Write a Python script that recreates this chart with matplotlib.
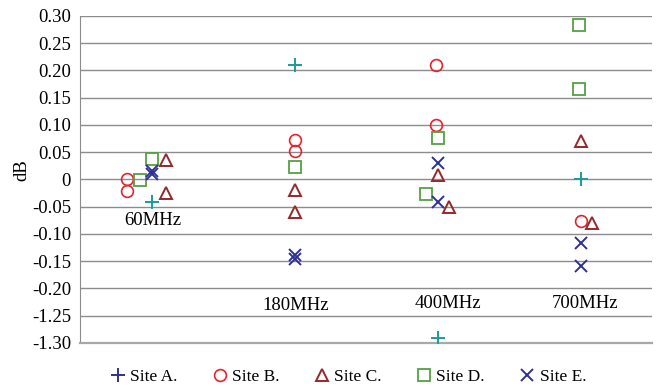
import matplotlib.pyplot as plt
from matplotlib.lines import Line2D

freqs = ["60MHz", "180MHz", "400MHz", "700MHz"]

# measured deviation (dB) per site, one list per frequency
site_a = [[-0.041], [0.210], [-1.290], [0.000]]
site_b = [[0.000, -0.021], [0.073, 0.052], [0.210, 0.100], [-0.077]]
site_c = [[0.036, -0.024], [-0.019, -0.060], [0.008, -0.051], [0.071, -0.079]]
site_d = [[0.037, -0.001], [0.023], [0.077, -0.027], [0.284, 0.166]]
site_e = [[0.016, 0.010], [-0.139, -0.146], [0.030, -0.041], [-0.117, -0.158]]

site_names = ["Site A.", "Site B.", "Site C.", "Site D.", "Site E."]
tick_values = [0.30, 0.25, 0.20, 0.15, 0.10, 0.05, 0, -0.05, -0.10, -0.15, -0.20, -1.25, -1.30]
tick_labels = ["0.30", "0.25", "0.20", "0.15", "0.10", "0.05", "0", "-0.05", "-0.10",
               "-0.15", "-0.20", "-1.25", "-1.30"]

# small sideways nudges so overlapping markers stay visible (category units)
nudge_a = [[0], [0], [0], [0]]
nudge_b = [[-0.17, -0.17], [0, 0], [-0.01, -0.01], [0.005]]
nudge_c = [[0.10, 0.10], [0, 0], [0, 0.08], [0, 0.08]]
nudge_d = [[0, -0.08], [0], [0, -0.08], [-0.01, -0.01]]
nudge_e = [[0, 0], [0, 0], [0, 0], [0, 0]]

styles = [
    dict(marker="+", color="#1a9c9c", ms=10, mew=1.4),
    dict(marker="o", color="#e2242c", ms=8.5, mew=1.2),
    dict(marker="^", color="#96282a", ms=8.5, mew=1.4),
    dict(marker="s", color="#55a044", ms=8, mew=1.3),
    dict(marker="x", color="#2e3192", ms=8.5, mew=1.4),
]
legend_colors = ["#2e3192", "#e2242c", "#96282a", "#55a044", "#2e3192"]


def to_axis(v):
    # broken axis: values below -0.2 are shifted up by 1.0
    return v if v >= -0.2 else v + 1.0


plt.rcParams["font.family"] = ["Liberation Serif", "DejaVu Serif"]

fig = plt.figure(figsize=(6.58, 3.89), dpi=100)
ax = fig.add_axes([0.1216, 0.1183, 0.8694, 0.8406])

sites = [site_a, site_b, site_c, site_d, site_e]
nudges = [nudge_a, nudge_b, nudge_c, nudge_d, nudge_e]
for data, nudge, st in zip(sites, nudges, styles):
    xs, ys = [], []
    for i, vals in enumerate(data):
        for v, dx in zip(vals, nudge[i]):
            xs.append(i + dx)
            ys.append(to_axis(v))
    ax.plot(xs, ys, linestyle="none", marker=st["marker"], ms=st["ms"], mew=st["mew"],
            mec=st["color"], mfc="none", color=st["color"], zorder=3)

ax.set_xlim(-0.5, 3.5)
ax.set_ylim(-0.30, 0.30)
ax.set_yticks([to_axis(t) for t in tick_values])
ax.set_yticklabels(tick_labels)
ax.set_xticks([])
ax.tick_params(axis="y", length=0, pad=6.5, labelsize=13.5)
ax.yaxis.grid(True, color="#8c8c8c", linewidth=1.0)
ax.set_axisbelow(True)
for s in ["top", "right"]:
    ax.spines[s].set_visible(False)
ax.spines["left"].set_color("#8c8c8c")
ax.spines["bottom"].set_color("#a8a8a8")
ax.spines["bottom"].set_linewidth(1.6)

ax.set_ylabel("dB", fontsize=13.5)
ax.yaxis.set_label_coords(-0.086, 0.53)

label_pos = [(0.01, -0.076), (1.01, -0.231), (2.07, -0.228), (3.03, -0.228)]
for name, (x, y) in zip(freqs, label_pos):
    ax.text(x, y, name, ha="center", va="center", fontsize=13.5)

handles = [Line2D([], [], linestyle="none", marker=st["marker"], ms=st["ms"], mew=st["mew"],
                  mec=c, mfc="none") for st, c in zip(styles, legend_colors)]
fig.legend(handles, site_names, loc="center", bbox_to_anchor=(0.527, 0.03), ncol=5,
           frameon=False, fontsize=12.5, handletextpad=0.1, columnspacing=1.85,
           handlelength=1.2)

fig.savefig("out.png", dpi=100)
